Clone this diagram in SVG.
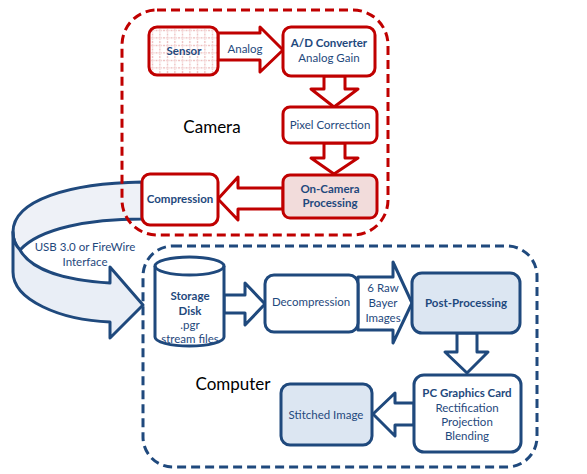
<svg xmlns="http://www.w3.org/2000/svg" width="587" height="474" viewBox="0 0 587 474">
<defs>
<pattern id="grid" x="149" y="27" width="7.5" height="7.5" patternUnits="userSpaceOnUse">
<path d="M3.5,0 V7.5 M0,3.5 H7.5" stroke="#E39A9A" stroke-width="0.9" stroke-dasharray="1,1.2" fill="none"/>
</pattern>
</defs>
<style>
.r{fill:#fff;stroke:#C00000;stroke-width:3;stroke-linejoin:round}
.b{fill:#fff;stroke:#1F497D;stroke-width:3;stroke-linejoin:round}
.bf{fill:#DCE6F2;stroke:#1F497D;stroke-width:3;stroke-linejoin:round}
.rd{fill:none;stroke:#C00000;stroke-width:3;stroke-dasharray:9,5}
.bd{fill:none;stroke:#1F497D;stroke-width:3;stroke-dasharray:9,5}
text{font-family:Lato,"Liberation Sans",sans-serif;fill:#1F497D;font-size:11.5px;text-anchor:middle}
.bo{font-weight:bold}
.big{font-size:17px;fill:#000}
</style>
<g id="connectors">
<path d="M142,182 C70,183 13,200 13,232 C13,240 16,246 20,250 C40,228 90,219 142,219 Z" fill="#EEF1F7" stroke="#1F497D" stroke-width="3" stroke-linejoin="round"/>
<path d="M13,232 L13,272 C13,300 60,320 110,322 L110,338 L143,305 L110,267 L110,283 C60,280 30,268 20,250 C15,245 13,240 13,232 Z" fill="#E9EEF6" stroke="#1F497D" stroke-width="3" stroke-linejoin="round"/>
<polygon class="r" points="218,33 260,33 260,27 283,50 260,72 260,60 218,60"/>
<polygon class="r" points="324,76 345,76 345,89 358,89 334,107 311,89 324,89"/>
<polygon class="r" points="324,143 345,143 345,158 358,158 334,174 311,158 324,158"/>
<polygon class="r" points="283,188 238,188 238,177 218,199 238,220 238,209 283,209"/>
<polygon class="b" points="224,295 245,295 245,283 265,304 245,325 245,313 224,313"/>
<polygon class="b" points="358,277 393,277 393,262 412,303 393,343 393,330 358,330"/>
<polygon class="b" points="457,333 477,333 477,352 488,352 467,373 445,352 457,352"/>
<polygon class="b" points="414,403 395,403 395,393 373,414 395,436 395,425 414,425"/>
<text x="245" y="53" font-size="12">Analog</text>
<text x="85" y="251" font-size="12">USB 3.0 or FireWire</text>
<text x="85" y="266" font-size="12">Interface</text>
<text x="383" y="292">6 Raw</text>
<text x="383" y="307">Bayer</text>
<text x="383" y="322">Images</text>
</g>
<g id="camera">
<rect class="rd" x="122" y="10" width="266" height="225" rx="35"/>
<text class="big" x="212" y="133">Camera</text>
</g>
<g id="computer">
<rect class="bd" x="143" y="246" width="394" height="221" rx="30"/>
<text class="big" x="233" y="390">Computer</text>
</g>
<g id="sensor">
<rect x="149" y="27" width="69" height="48" rx="8" fill="#fff" stroke="none"/>
<rect x="149" y="27" width="69" height="48" rx="8" fill="url(#grid)" stroke="#C00000" stroke-width="3"/>
<text class="bo" x="184" y="55" font-size="11">Sensor</text>
</g>
<g id="adconverter">
<rect class="r" x="283" y="27" width="92" height="49" rx="8"/>
<text class="bo" x="329" y="47">A/D Converter</text>
<text x="329" y="62">Analog Gain</text>
</g>
<g id="pixelcorrection">
<rect class="r" x="283" y="107" width="94" height="36" rx="7"/>
<text x="330" y="129" font-size="11">Pixel Correction</text>
</g>
<g id="oncamera">
<rect x="283" y="175" width="94" height="43" rx="7" fill="#F2DCDB" stroke="#C00000" stroke-width="3"/>
<text class="bo" x="330" y="193" font-weight="600">On-Camera</text>
<text class="bo" x="330" y="207" font-weight="600">Processing</text>
</g>
<g id="compression">
<rect class="r" x="142" y="174" width="76" height="51" rx="8"/>
<text class="bo" x="180" y="203" font-size="11">Compression</text>
</g>
<g id="storage">
<path class="b" d="M155,266 L155,337 A34.5,9 0 0 0 224,337 L224,266 A34.5,9 0 0 0 155,266 Z"/>
<path d="M155,266 A34.5,9 0 0 0 224,266" fill="none" stroke="#1F497D" stroke-width="3"/>
<text class="bo" x="190" y="300">Storage</text>
<text class="bo" x="190" y="315">Disk</text>
<text x="190" y="329">.pgr</text>
<text x="190" y="343">stream files</text>
</g>
<g id="decompression">
<rect class="b" x="265" y="275" width="93" height="57" rx="9"/>
<text x="311" y="306">Decompression</text>
</g>
<g id="postprocessing">
<rect class="bf" x="412" y="273" width="108" height="60" rx="10"/>
<text class="bo" x="466" y="307">Post-Processing</text>
</g>
<g id="pcgraphics">
<rect class="b" x="414" y="375" width="107" height="77" rx="10"/>
<text class="bo" x="467" y="397">PC Graphics Card</text>
<text x="467" y="412">Rectification</text>
<text x="467" y="426">Projection</text>
<text x="467" y="440">Blending</text>
</g>
<g id="stitched">
<rect class="bf" x="281" y="384" width="91" height="61" rx="9"/>
<text x="326" y="419">Stitched Image</text>
</g>
</svg>
